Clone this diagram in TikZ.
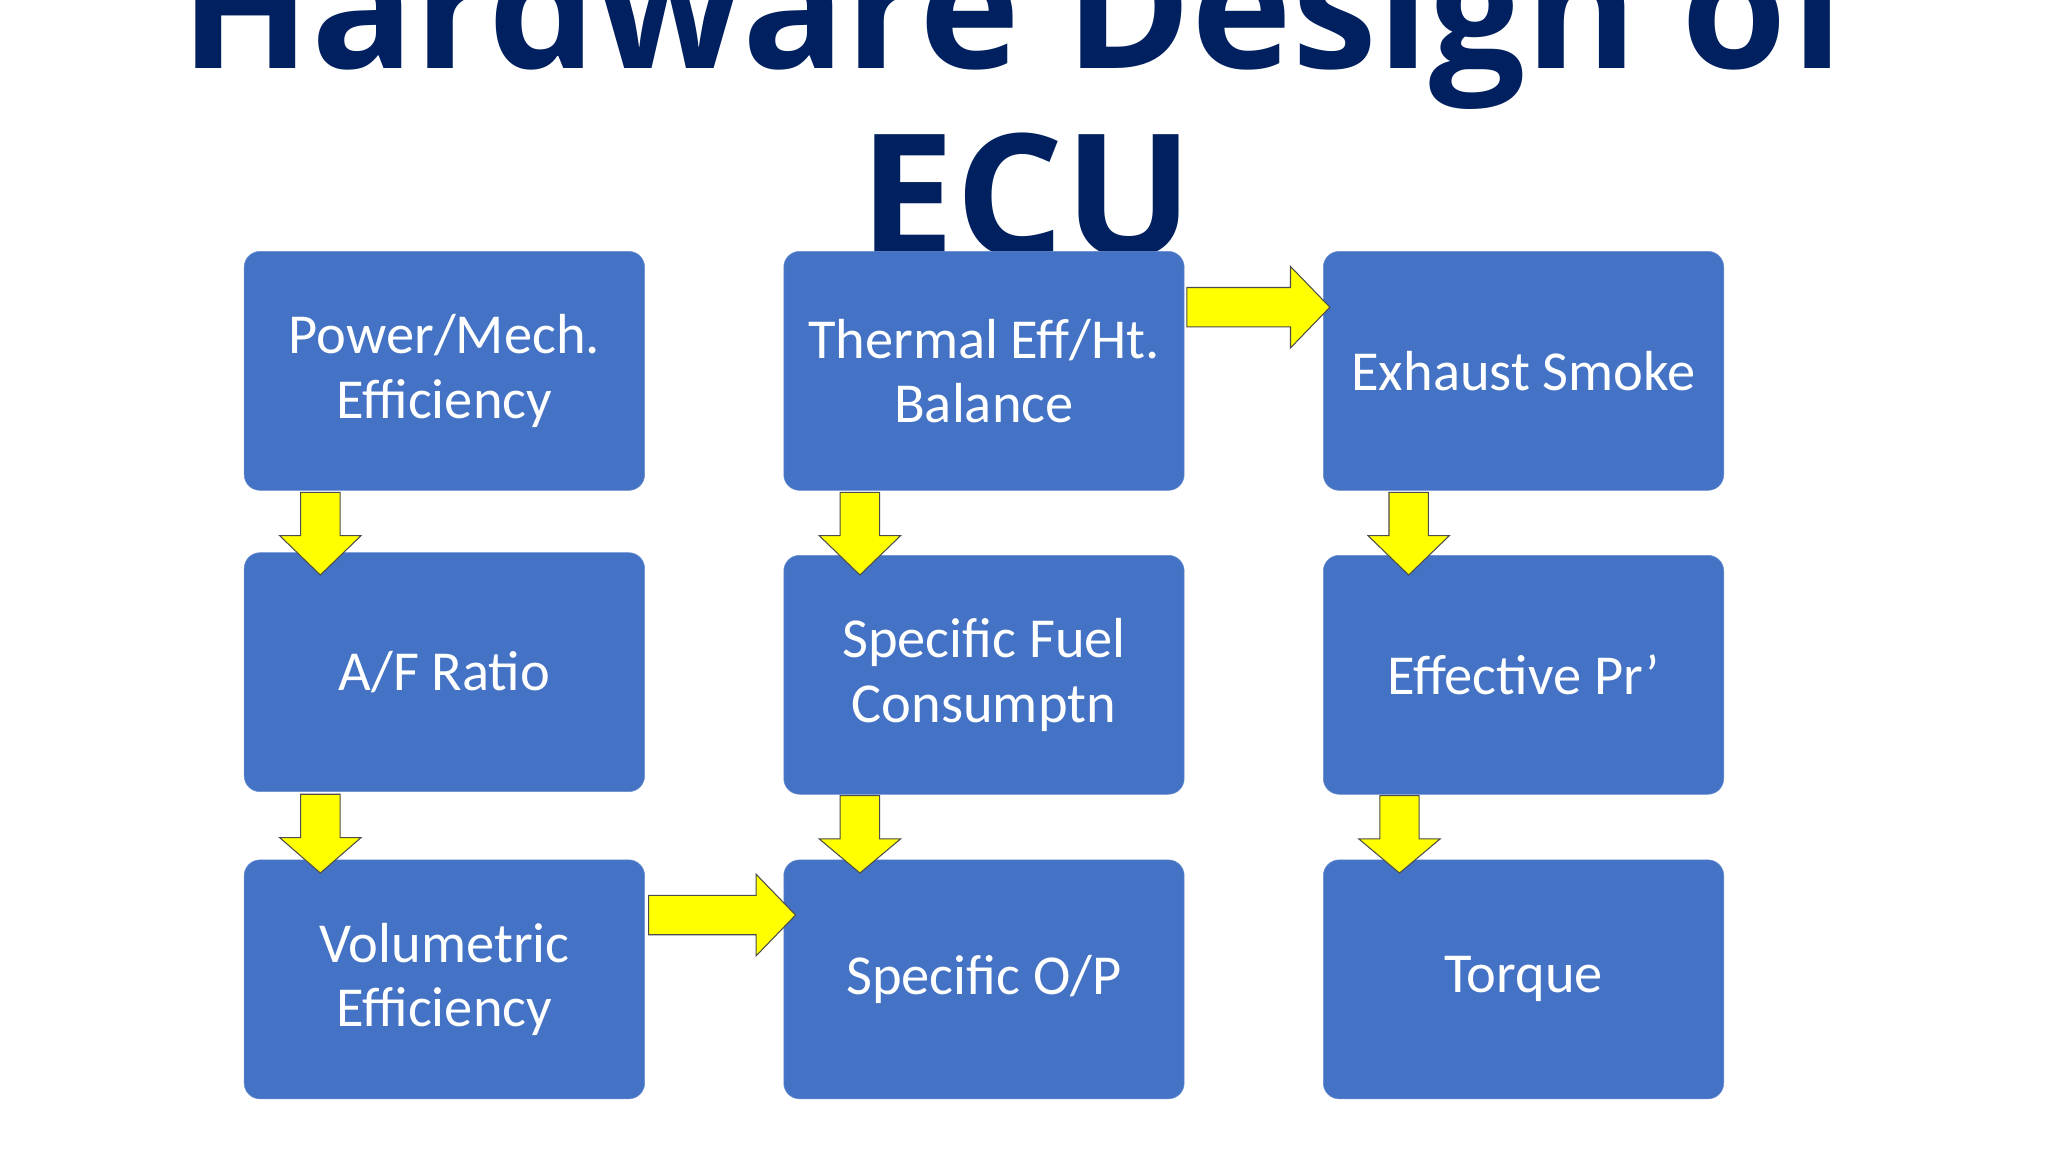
\documentclass[tikz,border=0pt]{standalone}
\usepackage{fontspec}
\setmainfont{Carlito}
\newfontfamily\titlefont{Open Sans}
\definecolor{boxblue}{HTML}{4472C4}
\definecolor{navy}{HTML}{002060}
\definecolor{arrowy}{HTML}{FFFF00}
\begin{document}
\begin{tikzpicture}[x=1pt,y=-1pt,
  box/.style={fill=boxblue,draw=boxblue!80!white,rounded corners=12pt,minimum width=305pt,minimum height=182pt,text=white,font=\fontsize{43}{49}\selectfont,align=center,inner sep=0pt},
  yarrow/.style={fill=arrowy,draw=black!70,line width=0.8pt,line join=miter}]
\useasboundingbox (0,0) rectangle (1560,877.5);
\fill[white] (0,0) rectangle (1560,877.5);
\node[font=\titlefont\bfseries\fontsize{130}{140}\selectfont,text=navy,anchor=base] (t1) at (775,52) {Hardware Design of};
\node[font=\titlefont\bfseries\fontsize{130}{140}\selectfont,text=navy,anchor=base] (t2) at (782,195) {ECU};
\node[box] (a) at (338.5,282.5) {Power/Mech.\\Efficiency};
\node[box] (b) at (338.5,512) {A/F Ratio};
\node[box] (c) at (338.5,746) {Volumetric\\Efficiency};
\node[box] (d) at (749.5,282.5) {Thermal Eff/Ht.\\Balance};
\node[box] (e) at (749.5,514) {Specific Fuel\\Consumptn};
\node[box] (f) at (749.5,746) {Specific O/P};
\node[box] (g) at (1160.5,282.5) {Exhaust Smoke};
\node[box] (h) at (1160.5,514) {Effective Pr’};
\node[box] (i) at (1160.5,746) {Torque};
\foreach \cx/\ty/\by in {244/375/438, 244/605/665, 655/375/438, 655/606/665, 1073/375/438, 1066/606/665}{
  \draw[yarrow] (\cx-15,\ty) -- (\cx+15,\ty) -- (\cx+15,\ty+33) -- (\cx+31,\ty+33) -- (\cx,\by) -- (\cx-31,\ty+33) -- (\cx-15,\ty+33) -- cycle;
}
\foreach \lx/\rx/\cy in {904/1013/234, 494/606/697}{
  \draw[yarrow] (\lx,\cy-15) -- (\rx-30,\cy-15) -- (\rx-30,\cy-31) -- (\rx,\cy) -- (\rx-30,\cy+31) -- (\rx-30,\cy+15) -- (\lx,\cy+15) -- cycle;
}
\end{tikzpicture}
\end{document}
